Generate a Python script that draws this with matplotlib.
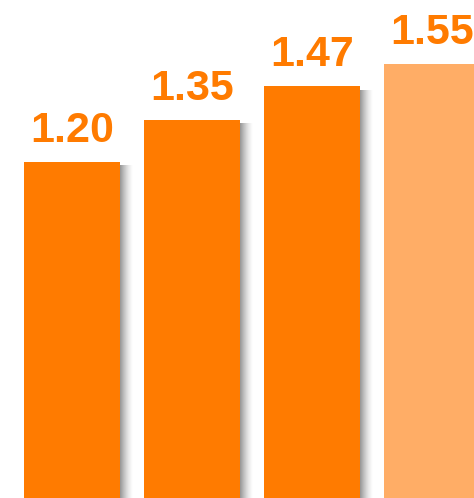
import matplotlib
matplotlib.use("Agg")
import matplotlib.pyplot as plt
import numpy as np

categories = ["A", "B", "C", "D"]
values = [1.20, 1.35, 1.47, 1.55]
labels = ["1.20", "1.35", "1.47", "1.55"]
colors = ["#FF7B00", "#FF7B00", "#FF7B00", "#FFAD66"]
text_color = "#FF7B00"

fig = plt.figure(figsize=(4.74, 4.98), dpi=100)
ax = fig.add_axes([0, 0, 1, 1])
x = np.arange(len(categories))
width = 0.8
px = 1 / 120.0  # data units per pixel in x

# shadows
nsteps = 13
for xi, v in zip(x, values):
    right = xi + width / 2
    for k in range(nsteps):
        a = 0.6 * (1 - k / nsteps) ** 1.5
        ax.bar(right + k * px, v - 0.012, width=px, bottom=0, align="edge",
               color="#555555", alpha=a, linewidth=0, zorder=1)

ax.bar(x, values, width=width, color=colors, linewidth=0, zorder=2)

for xi, v, lab in zip(x, values, labels):
    ax.annotate(lab, (xi, v), xytext=(0, 20), textcoords="offset pixels",
                ha="center", va="baseline", fontsize=31, fontweight="bold",
                family="Liberation Sans", color=text_color, zorder=3)

ax.set_xlim(-0.6, 3.35)
ax.set_ylim(0, 498 / 280)
ax.axis("off")
fig.savefig("out.png", dpi=100)
